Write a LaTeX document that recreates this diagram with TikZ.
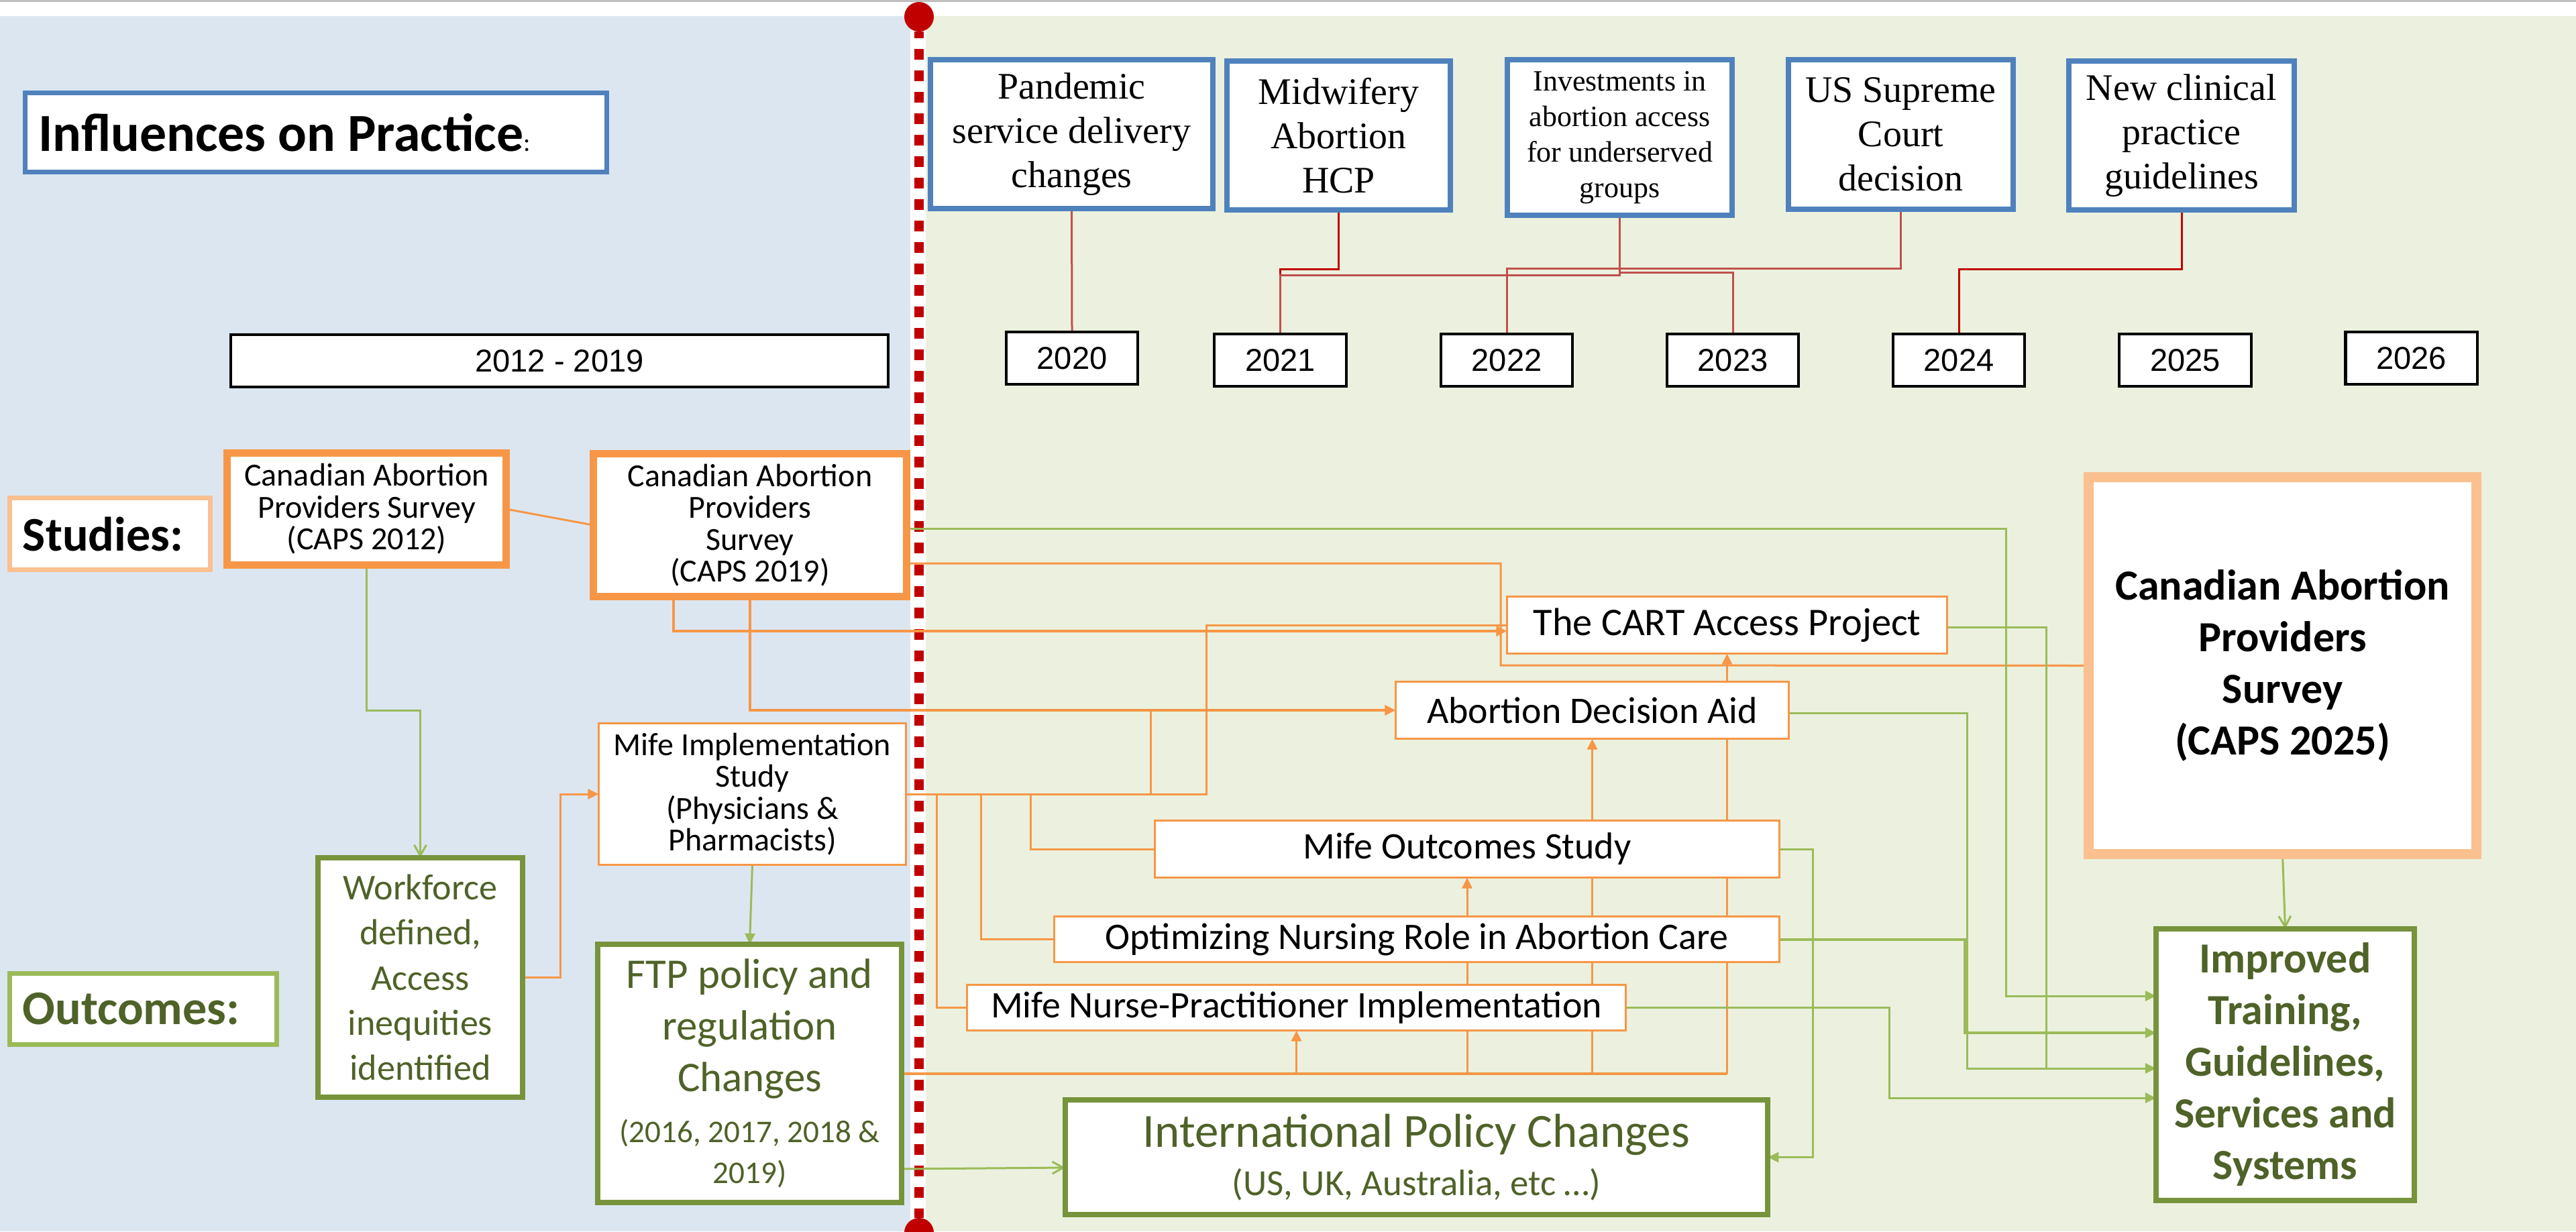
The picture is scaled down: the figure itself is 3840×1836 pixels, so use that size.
\documentclass[tikz,border=0pt]{standalone}
\usepackage{fontspec}
\setmainfont{Carlito}
\newfontfamily\serifF{Liberation Serif}
\newfontfamily\arialF{Liberation Sans}
\usetikzlibrary{arrows.meta}
\pgfdeclarelayer{bg}
\pgfdeclarelayer{lines}
\pgfsetlayers{bg,lines,main}
\setlength{\parindent}{0pt}
\lineskiplimit=-100pt
\definecolor{cblue}{HTML}{4F81BD}
\definecolor{corange}{HTML}{F79646}
\definecolor{clorange}{HTML}{FAC090}
\definecolor{cgreen}{HTML}{9BBB59}
\definecolor{cdgreen}{HTML}{77933C}
\definecolor{ctext}{HTML}{4F6228}
\definecolor{cred}{HTML}{C00000}
\definecolor{credb}{HTML}{C0504D}
\definecolor{bgleft}{HTML}{DCE6F1}
\definecolor{bgright}{HTML}{EBF1DE}
\definecolor{cgray}{HTML}{BFBFBF}
\begin{document}
\begin{tikzpicture}[x=0.01cm,y=-0.01cm,
  every node/.style={inner sep=0pt,outer sep=0pt},
  bx/.style={draw,fill=white,align=flush center},
  evt/.style={bx,draw=cblue,line width=0.08cm,font=\serifF\fontsize{15.9pt}{18.8pt}\selectfont},
  yr/.style={bx,draw=black,line width=0.04cm,minimum width=1.96cm,minimum height=0.78cm,font=\arialF\fontsize{13.4pt}{16pt}\selectfont},
  study/.style={bx,draw=corange,line width=0.11cm,font=\fontsize{13.66pt}{13.5pt}\selectfont},
  proj/.style={bx,draw=corange,line width=0.03cm,font=\fontsize{15.9pt}{19pt}\selectfont},
  outc/.style={bx,draw=cdgreen,line width=0.08cm,text=ctext},
  ol/.style={draw=corange,line width=0.03cm},
  olt/.style={draw=corange,line width=0.04cm},
  gl/.style={draw=cgreen,line width=0.03cm},
  glt/.style={draw=cgreen,line width=0.04cm},
  rl/.style={draw=cred,line width=0.03cm},
  rlb/.style={draw=credb,line width=0.03cm},
  tipT/.style={-{Triangle[length=0.16cm,width=0.15cm]}},
  tipB/.style={-{Straight Barb[length=0.16cm,width=0.18cm]}},
]
\useasboundingbox (0,0) rectangle (3840,1836);
\begin{pgfonlayer}{bg}
\fill[white] (0,0) rectangle (3840,1836);
\fill[cgray] (0,0) rectangle (3840,3);
\fill[bgleft] (0,24) rectangle (1357,1836);
\fill[bgright] (1380,24) rectangle (3840,1836);
\node[circle,fill=cred,minimum size=0.44cm] (tdot) at (1370,25) {};
\node[circle,fill=cred,minimum size=0.44cm] (bdot) at (1370,1838) {};
\draw[cred,line width=0.14cm,dash pattern=on 0.16cm off 0.16cm,dash phase=0.06cm] (tdot.south) -- (bdot.north);
\end{pgfonlayer}

% header
\node[bx,draw=cblue,line width=0.07cm,minimum height=1.18cm,text width=8.27cm,inner xsep=0.2cm,align=flush left,font=\bfseries\fontsize{22.7pt}{27pt}\selectfont] (infl) at (471,197.5) {Influences on Practice{\mdseries\fontsize{11pt}{11pt}\selectfont:}};

% events
\node[evt,minimum width=4.21cm,minimum height=2.22cm,text width=4.21cm] (pand) at (1597.5,200) {Pandemic\\service delivery\\changes};
\node[evt,minimum width=3.33cm,minimum height=2.22cm,text width=3.33cm] (midw) at (1995.5,202) {Midwifery\\Abortion\\HCP};
\node[evt,minimum width=3.35cm,minimum height=2.32cm,text width=3.35cm,font=\serifF\fontsize{12.5pt}{15.1pt}\selectfont] (inv) at (2414.5,205) {Investments in\\abortion access\\for underserved\\groups};
\node[evt,minimum width=3.35cm,minimum height=2.23cm,text width=3.35cm] (usc) at (2833.5,200.5) {US Supreme\\Court\\decision};
\node[evt,minimum width=3.36cm,minimum height=2.22cm,text width=3.36cm] (ncp) at (3252,202) {New clinical\\practice\\guidelines};

% years
\node[yr,minimum width=9.80cm] (y1219) at (834,538) {2012 - 2019};
\node[yr] (y20) at (1598,534) {2020};
\node[yr] (y21) at (1908.5,537) {2021};
\node[yr] (y22) at (2246,537) {2022};
\node[yr] (y23) at (2583,537) {2023};
\node[yr] (y24) at (2920,537) {2024};
\node[yr] (y25) at (3257.5,537) {2025};
\node[yr] (y26) at (3594.5,534) {2026};

% row labels
\node[bx,draw=clorange,line width=0.07cm,minimum height=1.07cm,text width=2.60cm,inner xsep=0.195cm,align=flush left,font=\bfseries\fontsize{20.5pt}{24pt}\selectfont] (stud) at (164,796) {Studies:};
\node[bx,draw=cgreen,line width=0.07cm,minimum height=1.06cm,text width=3.59cm,inner xsep=0.195cm,align=flush left,text=ctext,font=\bfseries\fontsize{20.5pt}{24pt}\selectfont] (outl) at (213.5,1504.5) {Outcomes:};

% studies
\node[study,minimum width=4.16cm,minimum height=1.67cm,text width=4.16cm] (c12) at (546.5,759) {Canadian Abortion\\Providers Survey\\(CAPS 2012)};
\node[study,minimum width=4.67cm,minimum height=2.13cm,text width=4.67cm] (c19) at (1118,783) {Canadian Abortion\\Providers\\Survey\\(CAPS 2019)};
\node[study,line width=0.03cm,minimum width=4.58cm,minimum height=2.11cm,text width=4.58cm] (mimp) at (1121.5,1184) {Mife Implementation\\Study\\(Physicians \&\\Pharmacists)};

% outcomes
\node[outc,minimum width=3.05cm,minimum height=3.57cm,text width=3.05cm,font=\fontsize{15.4pt}{19.1pt}\selectfont] (wf) at (626.5,1457.5) {Workforce\\defined,\\Access\\inequities\\identified};
\node[outc,minimum width=4.53cm,minimum height=3.85cm,text width=4.53cm,font=\fontsize{17.9pt}{21.9pt}\selectfont] (ftp) at (1117.5,1600.5) {FTP policy and\\regulation\\Changes\par\vspace{0.15cm}{\fontsize{13.4pt}{17.4pt}\selectfont(2016, 2017, 2018 \&\\2019)\par}};
\node[outc,minimum width=10.47cm,minimum height=1.71cm,text width=10.47cm,font=\fontsize{20.2pt}{24pt}\selectfont] (intl) at (2111.5,1725.5) {International Policy Changes\par{\fontsize{15.6pt}{20.5pt}\selectfont(US, UK, Australia, etc …)\par}};

% projects
\node[proj,minimum width=6.56cm,minimum height=0.85cm,font=\fontsize{16.6pt}{19pt}\selectfont] (cart) at (2574.5,932) {The CART Access Project};
\node[proj,minimum width=5.86cm,minimum height=0.85cm] (dec) at (2373.5,1059) {Abortion Decision Aid};
\node[proj,minimum width=9.31cm,minimum height=0.85cm] (mout) at (2187,1266) {Mife Outcomes Study};
\node[proj,minimum width=10.81cm,minimum height=0.68cm] (opt) at (2112,1400.5) {Optimizing Nursing Role in Abortion Care};
\node[proj,minimum width=9.82cm,minimum height=0.68cm] (mnp) at (1932.5,1502.5) {Mife Nurse-Practitioner Implementation};

% future
\node[bx,draw=clorange,line width=0.15cm,minimum width=5.78cm,minimum height=5.62cm,text width=5.78cm,font=\bfseries\fontsize{18.2pt}{21.9pt}\selectfont] (c25) at (3402.5,992.5) {Canadian Abortion\\Providers\\Survey\\(CAPS 2025)};
\node[outc,minimum width=3.85cm,minimum height=4.05cm,text width=3.85cm,font=\bfseries\fontsize{18.2pt}{21.9pt}\selectfont] (imp) at (3406.5,1587.5) {Improved\\Training,\\Guidelines,\\Services and\\Systems};

\begin{pgfonlayer}{lines}
% red: influences to years
\draw[rlb] (pand.south) -- (y20.north);
\draw[rl] (midw.south) -- ++(0,88) -| (y21.north);
\draw[rlb] (inv.south) -- ++(0,89) -| (y21.north);
\draw[rlb] (inv.south) -- ++(0,85) -| (y23.north);
\draw[rlb] (usc.south) -- ++(0,88) -| (y22.north);
\draw[rl] (ncp.south) -- ++(0,88) -| (y24.north);
% orange: studies to projects
\draw[ol] (c12.east) -- (c19.west);
\draw[ol] (c19.east |- 0,840) -| (2237,992) -- (c25.west);
\draw[olt,tipT] (c19.south -| 1004,0) |- (cart.west |- 0,941);
\draw[olt,tipT] (c19.south) |- (dec.west);
\draw[ol] (mimp.east) -| (1798,932) -- (cart.west |- 0,932);
\draw[ol] (mimp.east) -| (1715,1059);
\draw[ol] (mimp.east) -| (mout.west -| 1536,0) -- (mout.west);
\draw[ol] (mimp.east) -| (opt.west -| 1462,0) -- (opt.west);
\draw[ol] (mimp.east) -| (mnp.west -| 1396,0) -- (mnp.west);
\draw[ol,tipT] (wf.east) -| (mimp.west -| 835,0) -- (mimp.west);
\draw[olt] (ftp.east) -- (cart.south |- ftp.east);
\draw[ol,tipT] (mnp.south |- ftp.east) -- (mnp.south);
\draw[ol,tipT] (mout.south |- ftp.east) -- (mout.south);
\draw[ol,tipT] (dec.south |- ftp.east) -- (dec.south);
\draw[ol,tipT] (cart.south |- ftp.east) -- (cart.south);
% green: to outcomes
\draw[gl,tipT] (c19.east |- 0,788) -| (2990,1485) -- (imp.west |- 0,1485);
\draw[gl,tipT] (cart.east |- 0,935) -| (3050,1593) -- (imp.west |- 0,1593);
\draw[gl] (dec.east |- 0,1063) -| (2932,1593) -- (3050,1593);
\draw[glt,tipT] (opt.east) -| (2929,1540) -- (imp.west |- 0,1540);
\draw[gl,tipT] (mout.east) -| (2702,1725.5) -- (intl.east);
\draw[gl,tipT] (mnp.east) -| (2816,1637) -- (imp.west |- 0,1637);
\draw[gl,tipB] (c12.south) |- (wf.north |- 0,1059) -- (wf.north);
\draw[gl,tipT] (mimp.south) -- (ftp.north);
\draw[gl,tipB] (ftp.east |- 0,1743) -- (intl.west |- 0,1741);
\draw[gl,tipB] (c25.south) -- (imp.north);
\end{pgfonlayer}
\end{tikzpicture}
\end{document}
